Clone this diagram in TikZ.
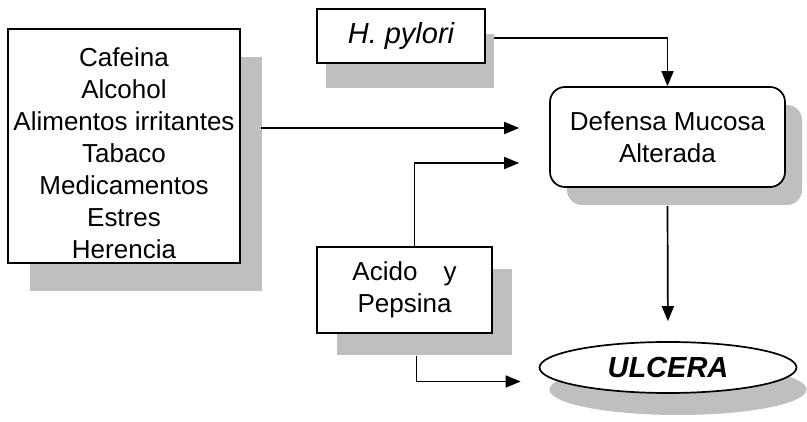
\documentclass[tikz,border=0pt]{standalone}
\usepackage{fontspec}
\setmainfont{Liberation Sans}
\usetikzlibrary{arrows.meta,shapes.geometric,shadows}

\begin{document}
\begin{tikzpicture}[x=1pt, y=1pt,
        caja/.style={draw, line width=1.7pt, fill=white, align=center, inner sep=0pt,
            font=\fontsize{26}{32}\selectfont},
        sombra/.style 2 args={drop shadow={shadow xshift=#1, shadow yshift=#2,
            opacity=1, fill=gray!50}},
        flecha/.style={line width=1.7pt, -{Triangle[length=15pt,width=12pt]}}]
        \useasboundingbox (0,0) rectangle (807,421);

        % Causas
        \node[caja, sombra={22pt}{-28pt}, minimum width=232pt, minimum height=234pt]
            (lista) at (124,275) {\rule{0pt}{34pt}Cafeina\\Alcohol\\Alimentos irritantes\\Tabaco\\Medicamentos\\Estres\\Herencia};
        \node[caja, sombra={9pt}{-25pt}, minimum width=168pt, minimum height=54pt,
            font=\fontsize{29}{34}\selectfont\itshape] (hpylori) at (401,385) {H. pylori};
        \node[caja, sombra={20pt}{-22pt}, minimum width=175pt, minimum height=86pt]
            (acido) at (404.5,131) {Acido\quad y\\Pepsina};

        % Efectos
        \node[caja, sombra={17pt}{-18pt}, rounded corners=15pt, minimum width=235pt, minimum height=100pt]
            (defensa) at (667.5,284) {Defensa Mucosa\\Alterada};
        \node[caja, ellipse, sombra={10pt}{-22pt}, minimum width=257pt, minimum height=51pt,
            font=\fontsize{29}{34}\selectfont\bfseries\itshape] (ulcera) at (668,53.5) {ULCERA};

        % Flechas
        \draw[flecha] ([shift={(20,18)}]lista.east) -- ([shift={(-30,9)}]defensa.west);
        \draw[flecha] ([shift={(8,-2)}]hpylori.east) -| (defensa.north);
        \draw[flecha] ([xshift=10pt]acido.north) |- ([shift={(-30,-26)}]defensa.west);
        \draw[flecha] ([shift={(12,-22)}]acido.south) |- ([shift={(-18,-14)}]ulcera.west);
        \draw[flecha, shorten >=20pt] ([yshift=-18pt]defensa.south) -- (ulcera.north);
    \end{tikzpicture}
\end{document}
